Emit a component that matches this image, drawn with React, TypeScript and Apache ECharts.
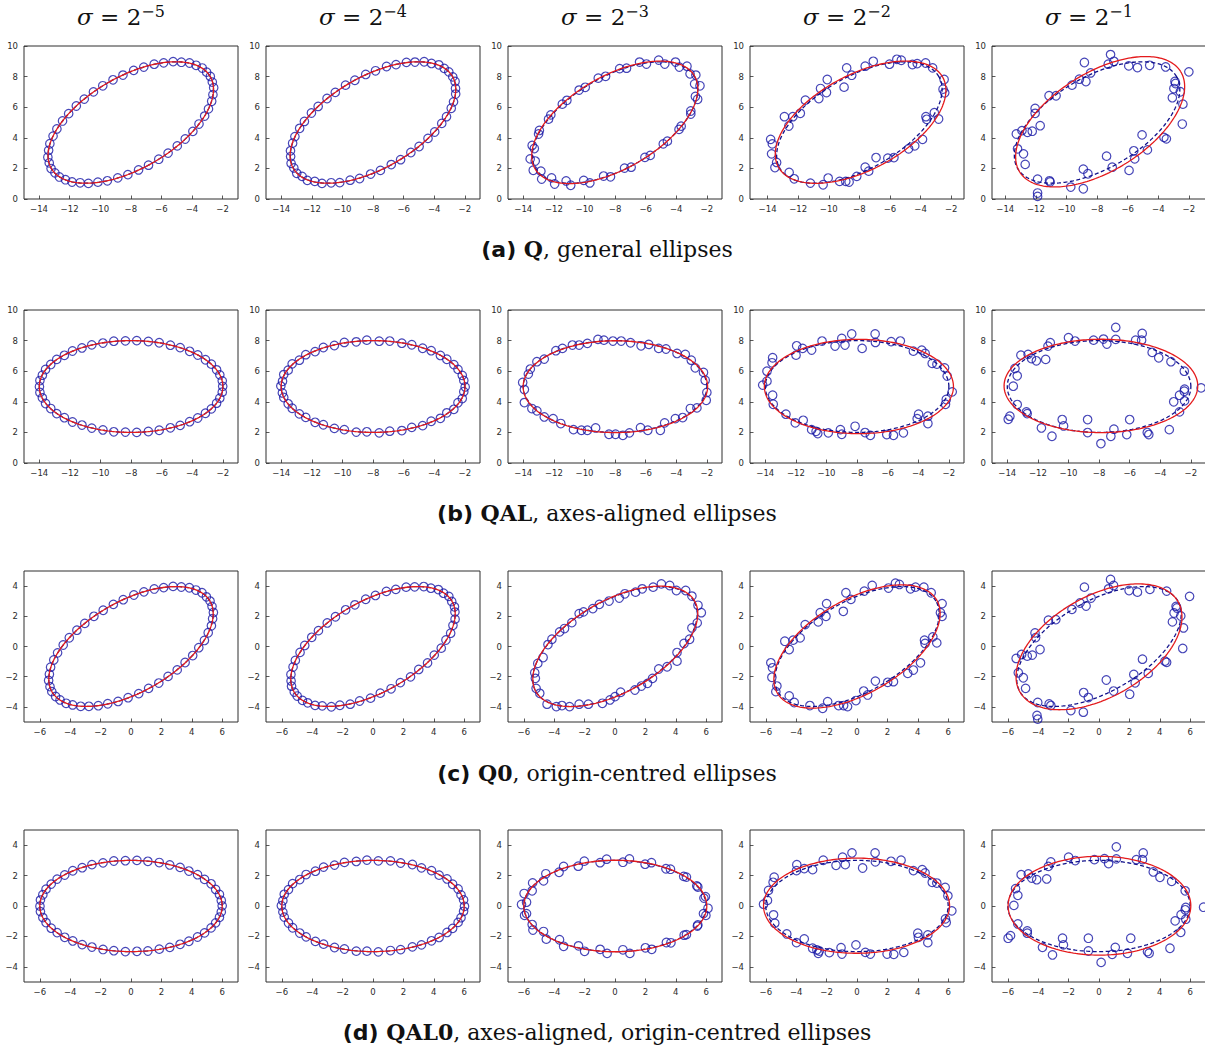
import { useEffect, useRef } from "react";
import * as echarts from "echarts";

// ---------- labels ----------
const sigmaExponents = ["\u22125", "\u22124", "\u22123", "\u22122", "\u22121"];
const rowLabels = ["(a)", "(b)", "(c)", "(d)"];
const rowNames = ["Q", "QAL", "Q0", "QAL0"];
const rowDescriptions = [
  ", general ellipses",
  ", axes-aligned ellipses",
  ", origin-centred ellipses",
  ", axes-aligned, origin-centred ellipses",
];

// ---------- ticks ----------
const xTicksShifted = [-14, -12, -10, -8, -6, -4, -2];
const yTicksShifted = [0, 2, 4, 6, 8, 10];
const xTicksCentred = [-6, -4, -2, 0, 2, 4, 6];
const yTicksCentred = [-4, -2, 0, 2, 4];

// ---------- axis limits ----------
const xMinQ = [-14.98, -15.0, -15.0, -15.15, -14.87];
const xMinQAL = [-15.0, -15.0, -15.0, -15.0, -15.0];
const xMinQ0 = [-7.04, -7.04, -7.04, -7.04, -7.04];
const xMinQAL0 = [-7.04, -7.04, -7.04, -7.04, -7.04];
const xSpanRows = [13.99, 13.99, 14.08, 14.08];
const yLimRows = [[0, 10], [0, 10], [-5, 5], [-5, 5]];

// ---------- ellipses [cx, cy, a, b, angleDeg] ----------
const trueEllipses = [
  [-8, 5, 6, 3, 30],
  [-8, 5, 6, 3, 0],
  [0, 0, 6, 3, 30],
  [0, 0, 6, 3, 0],
];
const fitQ = [
  [-8, 5, 6, 3, 30],
  [-8.01, 5, 6.01, 2.99, 30],
  [-8.02, 5.01, 6.03, 3.02, 30.2],
  [-7.92, 5.02, 6.12, 3.1, 28.5],
  [-7.8, 5.05, 6.2, 3.2, 32],
];
const fitQAL = [
  [-8, 5, 6, 3, 0],
  [-8, 5, 6.01, 3, 0],
  [-7.98, 4.99, 6.03, 3.0, 0],
  [-7.88, 5.0, 6.18, 3.08, 0],
  [-7.88, 5.04, 6.33, 3.05, 0],
];
const fitQ0 = [
  [0, 0, 6, 3, 30],
  [0, 0, 6, 3, 30],
  [0.02, 0.01, 6.02, 3.02, 30],
  [0, 0, 6.08, 3.1, 30.5],
  [0, -0.02, 6.0, 3.34, 30],
];
const fitQAL0 = [
  [0, 0, 6, 3, 0],
  [0, 0, 6, 3, 0],
  [0.02, 0, 6.02, 3.01, 0],
  [-0.03, 0.02, 6.12, 3.13, 0],
  [0.03, 0.02, 6.01, 3.25, 0],
];

// ---------- sample points ----------
// Row (a) Q
const qS5 = [[-2.80,8.01],[-3.04,8.29],[-3.33,8.56],[-3.73,8.74],[-4.16,8.89],[-4.69,8.94],[-5.23,8.98],[-5.85,8.90],[-6.47,8.81],[-7.15,8.62],[-7.81,8.41],[-8.51,8.10],[-9.16,7.79],[-9.83,7.40],[-10.44,7.00],[-11.04,6.53],[-11.56,6.08],[-12.06,5.58],[-12.46,5.10],[-12.83,4.58],[-13.08,4.11],[-13.29,3.61],[-13.37,3.18],[-13.42,2.73],[-13.33,2.36],[-13.21,1.99],[-12.96,1.71],[-12.67,1.44],[-12.27,1.26],[-11.84,1.11],[-11.31,1.06],[-10.77,1.02],[-10.15,1.10],[-9.53,1.19],[-8.85,1.38],[-8.19,1.59],[-7.49,1.90],[-6.84,2.21],[-6.17,2.60],[-5.56,3.00],[-4.96,3.47],[-4.44,3.92],[-3.94,4.42],[-3.54,4.90],[-3.17,5.42],[-2.92,5.89],[-2.71,6.39],[-2.63,6.82],[-2.58,7.27],[-2.67,7.64]];
const qS4 = [[-2.79,7.98],[-3.05,8.31],[-3.35,8.54],[-3.70,8.77],[-4.18,8.86],[-4.66,8.97],[-5.26,8.95],[-5.82,8.93],[-6.50,8.78],[-7.12,8.66],[-7.84,8.38],[-8.48,8.14],[-9.19,7.76],[-9.80,7.44],[-10.47,6.97],[-11.01,6.57],[-11.59,6.05],[-12.03,5.62],[-12.49,5.07],[-12.80,4.62],[-13.11,4.08],[-13.26,3.65],[-13.40,3.15],[-13.39,2.77],[-13.36,2.33],[-13.18,2.03],[-12.99,1.68],[-12.64,1.48],[-12.30,1.22],[-11.81,1.15],[-11.34,1.02],[-10.74,1.06],[-10.18,1.07],[-9.50,1.23],[-8.88,1.34],[-8.16,1.63],[-7.52,1.87],[-6.81,2.25],[-6.20,2.57],[-5.53,3.04],[-4.99,3.43],[-4.41,3.96],[-3.97,4.38],[-3.51,4.94],[-3.20,5.38],[-2.89,5.93],[-2.74,6.35],[-2.60,6.86],[-2.61,7.23],[-2.64,7.68]];
const qS3 = [[-2.72,8.10],[-3.10,8.18],[-3.30,8.68],[-3.80,8.62],[-4.05,8.95],[-4.75,8.82],[-5.15,9.08],[-5.95,8.82],[-6.40,8.95],[-7.25,8.55],[-7.70,8.52],[-8.62,8.02],[-9.10,7.90],[-9.95,7.30],[-10.35,7.12],[-11.15,6.45],[-11.45,6.20],[-12.20,5.50],[-12.35,5.22],[-12.95,4.48],[-13.00,4.25],[-13.42,3.50],[-13.28,3.30],[-13.55,2.62],[-13.22,2.48],[-13.35,1.88],[-12.85,1.82],[-12.80,1.30],[-12.15,1.38],[-11.95,0.98],[-11.20,1.18],[-10.90,0.90],[-10.05,1.22],[-9.65,1.05],[-8.75,1.50],[-8.30,1.45],[-7.38,2.02],[-6.95,2.08],[-6.05,2.72],[-5.70,2.85],[-4.85,3.60],[-4.58,3.78],[-3.82,4.55],[-3.68,4.76],[-3.05,5.55],[-3.05,5.75],[-2.60,6.52],[-2.75,6.70],[-2.45,7.40],[-2.80,7.52]];
const qS2 = [[-13.80,3.90],[-13.69,3.60],[-13.74,2.95],[-13.52,2.06],[-13.41,2.39],[-12.59,1.74],[-12.26,1.32],[-12.61,4.77],[-12.35,5.38],[-12.90,5.38],[-11.86,5.60],[-11.53,6.46],[-11.20,1.04],[-10.65,6.57],[-10.54,7.22],[-10.15,6.96],[-10.10,7.81],[-10.37,0.93],[-10.04,1.37],[-9.29,1.15],[-9.00,7.31],[-8.89,1.15],[-8.83,8.57],[-8.67,1.11],[-8.50,8.09],[-8.17,1.48],[-7.62,8.68],[-7.62,2.08],[-7.39,1.82],[-7.09,9.00],[-6.91,2.71],[-6.14,2.67],[-6.03,8.81],[-5.74,2.71],[-5.55,9.13],[-5.26,9.07],[-4.78,3.28],[-4.53,8.79],[-4.38,3.47],[-4.22,8.85],[-3.87,3.90],[-3.67,8.89],[-3.65,5.38],[-3.60,5.21],[-3.21,8.57],[-3.10,5.64],[-2.82,5.23],[-2.46,7.81],[-2.53,7.18],[-2.42,6.94]];
const qS1 = [[-13.28,4.25],[-13.20,3.28],[-12.91,4.47],[-12.81,2.95],[-12.70,2.26],[-12.55,4.36],[-12.24,4.43],[-12.05,5.92],[-12.05,5.60],[-11.89,1.30],[-11.89,0.39],[-11.89,0.17],[-11.72,4.79],[-11.14,6.75],[-11.11,1.19],[-11.07,1.11],[-10.68,6.75],[-9.72,0.78],[-9.64,7.44],[-9.16,7.83],[-8.83,8.92],[-8.90,1.95],[-8.73,7.68],[-8.90,0.67],[-8.60,1.65],[-8.42,8.24],[-7.38,2.80],[-7.27,8.81],[-7.12,9.44],[-7.01,2.08],[-6.90,9.00],[-5.93,8.70],[-5.91,1.87],[-5.60,3.15],[-5.54,2.62],[-5.36,8.59],[-5.06,4.19],[-4.71,3.21],[-4.56,8.74],[-3.63,4.03],[-3.47,3.93],[-3.52,8.63],[-3.08,6.62],[-2.98,7.22],[-2.91,7.68],[-2.87,7.55],[-2.56,7.01],[-2.39,6.20],[-2.43,4.90],[-2.00,8.31]];

// Row (b) QAL
const qalS5 = [[-2.01,5.01],[-2.04,5.37],[-2.20,5.76],[-2.41,6.09],[-2.75,6.46],[-3.14,6.75],[-3.64,7.06],[-4.17,7.30],[-4.79,7.54],[-5.43,7.70],[-6.16,7.86],[-6.87,7.94],[-7.63,8.00],[-8.37,7.98],[-9.13,7.96],[-9.84,7.84],[-10.57,7.72],[-11.21,7.52],[-11.83,7.32],[-12.36,7.04],[-12.86,6.77],[-13.25,6.44],[-13.59,6.11],[-13.80,5.74],[-13.96,5.39],[-13.99,4.99],[-13.96,4.61],[-13.80,4.26],[-13.59,3.89],[-13.25,3.56],[-12.86,3.23],[-12.36,2.96],[-11.83,2.68],[-11.21,2.48],[-10.57,2.28],[-9.84,2.16],[-9.13,2.04],[-8.37,2.02],[-7.63,2.00],[-6.87,2.06],[-6.16,2.14],[-5.43,2.30],[-4.79,2.46],[-4.17,2.70],[-3.64,2.94],[-3.14,3.25],[-2.75,3.54],[-2.41,3.91],[-2.20,4.24],[-2.04,4.63]];
const qalS4 = [[-1.98,4.97],[-2.07,5.40],[-2.17,5.73],[-2.45,6.12],[-2.72,6.43],[-3.18,6.78],[-3.60,7.03],[-4.20,7.34],[-4.76,7.50],[-5.47,7.73],[-6.12,7.83],[-6.91,7.97],[-7.60,7.96],[-8.41,8.03],[-9.10,7.92],[-9.88,7.88],[-10.53,7.68],[-11.25,7.55],[-11.79,7.28],[-12.40,7.08],[-12.82,6.72],[-13.29,6.48],[-13.55,6.07],[-13.84,5.78],[-13.92,5.34],[-14.03,5.03],[-13.93,4.58],[-13.84,4.28],[-13.55,3.87],[-13.29,3.58],[-12.82,3.21],[-12.40,2.98],[-11.79,2.66],[-11.25,2.50],[-10.53,2.26],[-9.88,2.18],[-9.10,2.02],[-8.41,2.04],[-7.60,1.97],[-6.91,2.08],[-6.12,2.12],[-5.47,2.33],[-4.76,2.44],[-4.20,2.73],[-3.60,2.92],[-3.18,3.28],[-2.72,3.51],[-2.45,3.94],[-2.17,4.21],[-2.07,4.66]];
const qalS3 = [[-14.04,5.26],[-13.93,4.80],[-13.93,3.95],[-13.67,5.81],[-13.54,6.14],[-13.44,3.56],[-13.11,6.62],[-13.11,3.41],[-12.63,6.79],[-12.63,3.01],[-12.05,2.90],[-11.87,7.34],[-11.55,2.58],[-11.44,7.49],[-10.79,7.71],[-10.72,2.18],[-10.35,7.71],[-10.20,2.14],[-9.81,7.82],[-9.81,2.14],[-9.27,2.29],[-9.12,8.08],[-8.73,8.03],[-8.40,1.88],[-8.14,7.97],[-7.97,1.88],[-7.60,7.97],[-7.49,1.81],[-7.06,1.97],[-6.99,7.86],[-6.34,2.31],[-6.30,7.66],[-5.86,2.14],[-5.80,7.75],[-5.15,7.49],[-5.04,2.14],[-4.76,2.62],[-4.67,7.45],[-4.06,2.90],[-3.95,7.16],[-3.58,2.97],[-3.41,7.10],[-3.08,3.56],[-3.02,6.72],[-2.76,6.22],[-2.65,3.60],[-2.22,5.92],[-2.11,5.41],[-2.00,4.61],[-2.04,4.10]];
const qalS2 = [[-14.17,5.09],[-13.89,5.35],[-13.89,6.00],[-13.52,6.88],[-13.56,6.55],[-13.52,4.43],[-13.48,3.84],[-12.65,3.19],[-12.04,2.62],[-11.99,7.05],[-11.95,7.66],[-11.56,7.49],[-11.52,2.79],[-10.97,7.38],[-10.97,2.18],[-10.68,2.07],[-10.57,1.92],[-10.29,7.97],[-9.88,1.97],[-9.44,7.64],[-9.00,8.14],[-9.09,2.18],[-9.00,1.88],[-8.79,7.71],[-8.35,8.43],[-8.13,2.40],[-7.67,7.49],[-7.48,1.99],[-7.13,1.81],[-6.82,8.43],[-6.80,7.88],[-6.06,1.86],[-5.77,7.93],[-5.62,1.81],[-5.17,7.97],[-4.97,1.97],[-4.32,7.31],[-4.07,2.90],[-3.98,3.19],[-3.77,7.38],[-3.55,7.16],[-3.37,2.58],[-3.37,3.06],[-3.09,6.51],[-2.78,6.46],[-2.28,6.22],[-2.11,5.68],[-2.17,4.15],[-2.22,3.84],[-1.78,4.65]];
const qalS1 = [[-13.94,2.86],[-13.83,3.06],[-13.61,5.02],[-13.50,6.18],[-13.35,5.70],[-13.35,3.82],[-13.11,7.05],[-12.75,3.34],[-12.70,3.23],[-12.64,7.10],[-12.42,6.83],[-12.10,6.68],[-11.77,2.29],[-11.49,6.77],[-11.34,7.64],[-11.19,7.86],[-11.08,1.75],[-10.41,2.84],[-10.32,2.42],[-10.00,8.19],[-9.57,7.97],[-8.75,2.84],[-8.75,1.99],[-8.36,8.03],[-7.88,1.27],[-7.71,8.10],[-7.49,7.77],[-7.03,2.21],[-6.91,8.86],[-6.91,8.08],[-7.23,1.75],[-6.00,2.84],[-6.19,1.86],[-5.61,8.03],[-5.22,8.03],[-5.18,8.47],[-4.85,1.99],[-4.75,1.86],[-4.53,7.23],[-4.10,6.88],[-3.41,2.18],[-3.30,6.62],[-3.12,4.00],[-2.74,4.43],[-2.74,3.34],[-2.43,6.00],[-2.43,4.69],[-2.41,4.83],[-2.41,4.06],[-1.33,4.91]];

// Row (c) Q0
const q0S5 = [[5.20,3.01],[4.96,3.29],[4.67,3.56],[4.27,3.74],[3.84,3.89],[3.31,3.94],[2.77,3.98],[2.15,3.90],[1.53,3.81],[0.85,3.62],[0.19,3.41],[-0.51,3.10],[-1.16,2.79],[-1.83,2.40],[-2.44,2.00],[-3.04,1.53],[-3.56,1.08],[-4.06,0.58],[-4.46,0.10],[-4.83,-0.42],[-5.08,-0.89],[-5.29,-1.37],[-5.37,-1.84],[-5.42,-2.25],[-5.33,-2.66],[-5.21,-2.99],[-4.96,-3.31],[-4.67,-3.54],[-4.27,-3.76],[-3.84,-3.87],[-3.31,-3.96],[-2.77,-3.96],[-2.15,-3.92],[-1.53,-3.79],[-0.85,-3.64],[-0.19,-3.39],[0.51,-3.12],[1.16,-2.77],[1.83,-2.42],[2.44,-1.98],[3.04,-1.55],[3.56,-1.06],[4.06,-0.60],[4.46,-0.08],[4.83,0.40],[5.08,0.91],[5.29,1.37],[5.37,1.84],[5.42,2.25],[5.33,2.66]];
const q0S4 = [[5.18,2.98],[4.99,3.32],[4.64,3.53],[4.30,3.77],[3.81,3.86],[3.34,3.97],[2.74,3.95],[2.18,3.93],[1.50,3.78],[0.88,3.65],[0.16,3.38],[-0.48,3.13],[-1.19,2.76],[-1.80,2.43],[-2.47,1.97],[-3.01,1.56],[-3.59,1.05],[-4.03,0.61],[-4.49,0.07],[-4.80,-0.39],[-5.11,-0.92],[-5.26,-1.36],[-5.40,-1.85],[-5.39,-2.28],[-5.36,-2.63],[-5.18,-3.02],[-4.99,-3.28],[-4.64,-3.57],[-4.30,-3.73],[-3.81,-3.90],[-3.34,-3.93],[-2.74,-3.99],[-2.18,-3.89],[-1.50,-3.82],[-0.88,-3.61],[-0.16,-3.42],[0.48,-3.09],[1.19,-2.80],[1.80,-2.39],[2.47,-2.01],[3.01,-1.52],[3.59,-1.09],[4.03,-0.57],[4.49,-0.11],[4.80,0.43],[5.11,0.88],[5.26,1.40],[5.40,1.81],[5.39,2.28],[5.36,2.63]];
const q0S3 = [[-5.28,-1.74],[-5.24,-2.11],[-5.19,-2.77],[-5.08,-1.12],[-4.95,-3.10],[-4.73,-0.73],[-4.47,-3.82],[-4.41,0.13],[-4.15,0.48],[-3.86,-3.98],[-3.64,0.97],[-3.49,-3.91],[-3.32,1.19],[-2.99,-3.98],[-2.84,1.58],[-2.36,2.18],[-2.36,-3.82],[-2.07,2.29],[-1.75,-3.82],[-1.46,2.51],[-1.03,2.79],[-0.83,-3.76],[-0.39,3.01],[-0.33,-3.54],[0.00,-3.32],[0.28,3.21],[0.37,-3.03],[0.65,3.49],[1.31,-2.88],[1.35,3.60],[1.74,-2.62],[1.79,3.82],[2.14,-2.44],[2.47,-2.11],[2.51,3.93],[2.88,-1.49],[3.05,4.15],[3.43,-1.34],[3.60,4.04],[4.04,3.71],[4.08,-0.40],[4.08,-0.97],[4.54,0.20],[4.65,3.71],[4.91,0.48],[5.06,1.23],[5.06,3.34],[5.41,1.56],[5.46,2.73],[5.68,2.24]];
const q0S2 = [[-5.67,-1.08],[-5.56,-1.41],[-5.60,-2.04],[-5.34,-2.99],[-5.27,-2.62],[-4.75,0.35],[-4.46,-0.20],[-4.46,-3.27],[-4.20,0.42],[-4.13,-3.71],[-3.74,0.57],[-3.41,1.45],[-3.10,-3.91],[-2.55,1.63],[-2.42,2.24],[-2.26,-4.09],[-2.04,2.00],[-2.00,2.84],[-1.93,-3.65],[-1.21,-3.91],[-0.90,2.33],[-0.88,-3.91],[-0.73,3.56],[-0.62,-3.98],[-0.40,3.12],[-0.07,-3.58],[0.48,3.67],[0.44,-2.95],[0.70,-3.21],[1.00,4.04],[1.21,-2.29],[2.02,-2.37],[2.07,3.87],[2.40,-2.33],[2.53,4.20],[2.79,4.11],[3.34,-1.78],[3.52,3.82],[3.71,-1.56],[3.85,3.93],[4.18,-1.08],[4.40,3.93],[4.44,0.42],[4.48,0.20],[4.88,3.56],[4.99,0.64],[5.25,0.24],[5.49,2.24],[5.60,2.84],[5.60,2.00]];
const q0S1 = [[-5.45,-0.79],[-5.31,-1.74],[-5.09,-0.53],[-4.98,-2.07],[-4.83,-2.77],[-4.72,-0.64],[-4.39,-0.57],[-4.21,0.90],[-4.17,0.59],[-4.03,-3.71],[-4.08,-4.57],[-4.03,-4.81],[-3.88,-0.20],[-3.33,1.74],[-3.28,-3.80],[-3.17,-3.91],[-2.84,1.78],[-1.85,-4.24],[-1.78,2.46],[-1.25,2.88],[-1.03,-4.35],[-1.01,-3.05],[-0.96,3.93],[-0.85,2.68],[-0.70,-3.38],[-0.52,3.21],[0.48,-2.22],[0.63,3.82],[0.76,4.44],[0.96,-2.95],[0.96,4.04],[1.98,3.71],[2.02,-3.16],[2.29,-1.85],[2.38,-2.40],[2.53,3.60],[2.86,-0.84],[3.24,-1.78],[3.35,3.78],[4.34,-0.97],[4.45,-1.05],[4.45,3.67],[4.83,1.63],[4.94,2.22],[5.07,2.66],[5.12,2.55],[5.38,2.02],[5.51,-0.13],[5.56,1.23],[5.96,3.32]];

// Row (d) QAL0
const qal0S5 = [[6.00,0.01],[5.94,0.37],[5.82,0.76],[5.57,1.09],[5.27,1.46],[4.84,1.75],[4.38,2.06],[3.81,2.30],[3.23,2.54],[2.55,2.70],[1.86,2.86],[1.11,2.94],[0.39,3.00],[-0.37,2.98],[-1.13,2.96],[-1.84,2.84],[-2.57,2.72],[-3.21,2.52],[-3.83,2.32],[-4.36,2.04],[-4.86,1.77],[-5.25,1.44],[-5.59,1.11],[-5.80,0.74],[-5.96,0.39],[-5.99,-0.01],[-5.96,-0.37],[-5.80,-0.76],[-5.59,-1.09],[-5.25,-1.46],[-4.86,-1.75],[-4.36,-2.06],[-3.83,-2.30],[-3.21,-2.54],[-2.57,-2.70],[-1.84,-2.86],[-1.13,-2.94],[-0.37,-3.00],[0.39,-2.98],[1.11,-2.96],[1.86,-2.84],[2.55,-2.72],[3.23,-2.52],[3.81,-2.32],[4.38,-2.04],[4.84,-1.77],[5.27,-1.44],[5.57,-1.11],[5.82,-0.74],[5.94,-0.39]];
const qal0S4 = [[6.02,-0.02],[5.96,0.40],[5.79,0.73],[5.60,1.12],[5.24,1.43],[4.87,1.78],[4.35,2.03],[3.85,2.33],[3.19,2.51],[2.59,2.73],[1.82,2.83],[1.15,2.97],[0.35,2.97],[-0.40,3.02],[-1.10,2.93],[-1.88,2.87],[-2.53,2.69],[-3.25,2.56],[-3.79,2.29],[-4.40,2.07],[-4.82,1.74],[-5.29,1.47],[-5.56,1.08],[-5.84,0.77],[-5.93,0.35],[-6.03,0.02],[-5.93,-0.40],[-5.84,-0.73],[-5.56,-1.12],[-5.29,-1.43],[-4.82,-1.78],[-4.40,-2.03],[-3.79,-2.33],[-3.25,-2.51],[-2.53,-2.73],[-1.88,-2.83],[-1.10,-2.97],[-0.40,-2.97],[0.35,-3.02],[1.15,-2.93],[1.82,-2.87],[2.59,-2.69],[3.19,-2.56],[3.85,-2.29],[4.35,-2.07],[4.87,-1.74],[5.24,-1.47],[5.60,-1.08],[5.79,-0.77],[5.96,-0.35]];
const qal0S3 = [[6.12,-0.15],[5.85,0.52],[5.95,0.62],[5.45,1.25],[5.38,1.32],[4.70,1.90],[4.52,1.95],[3.65,2.42],[3.35,2.45],[2.40,2.85],[1.98,2.75],[0.95,3.10],[0.52,2.88],[-0.55,3.08],[-0.98,2.85],[-2.02,2.95],[-2.42,2.62],[-3.38,2.60],[-3.68,2.22],[-4.55,2.12],[-4.70,1.65],[-5.42,1.52],[-5.45,1.00],[-5.98,0.82],[-5.82,0.25],[-6.15,0.10],[-5.82,-0.50],[-5.95,-0.62],[-5.45,-1.22],[-5.40,-1.58],[-4.70,-1.68],[-4.52,-2.18],[-3.65,-2.22],[-3.38,-2.65],[-2.40,-2.62],[-2.00,-2.98],[-0.98,-2.85],[-0.52,-3.12],[0.52,-2.88],[0.98,-3.12],[2.00,-2.75],[2.42,-2.85],[3.38,-2.40],[3.68,-2.42],[4.55,-1.92],[4.70,-1.88],[5.42,-1.32],[5.45,-1.25],[5.98,-0.62],[5.82,-0.50]];
const qal0S2 = [[-6.15,0.12],[-5.89,0.37],[-5.82,1.03],[-5.52,1.56],[-5.45,1.89],[-5.49,-0.58],[-5.41,-1.13],[-4.62,-1.84],[-3.98,2.33],[-3.96,2.72],[-3.98,-2.41],[-3.47,-2.17],[-3.47,2.46],[-2.92,2.39],[-2.92,-2.78],[-2.64,-2.89],[-2.55,-3.11],[-2.48,-2.96],[-2.22,3.01],[-1.82,-3.07],[-1.38,2.68],[-1.05,-2.74],[-0.99,-3.16],[-0.95,3.21],[-0.77,2.72],[-0.33,3.49],[-0.07,-2.56],[0.37,2.50],[0.55,-3.05],[0.88,-3.16],[1.19,3.49],[1.21,2.90],[1.98,-3.16],[2.24,2.94],[2.42,-3.18],[2.90,3.01],[3.08,-3.05],[3.71,2.33],[4.00,-1.79],[4.04,-2.06],[4.29,2.39],[4.48,2.17],[4.66,-1.90],[4.66,-2.41],[4.95,1.56],[5.25,1.51],[5.80,1.22],[5.98,0.67],[6.24,-0.32],[5.82,-0.85],[5.87,-1.09]];
const qal0S1 = [[-5.98,-2.12],[-5.82,-1.95],[-5.60,0.04],[-5.49,1.14],[-5.34,0.70],[-5.34,-1.18],[-5.12,2.06],[-4.72,-1.64],[-4.72,-1.79],[-4.65,2.11],[-4.43,1.84],[-4.10,1.73],[-3.72,-2.72],[-3.44,1.78],[-3.33,2.61],[-3.17,2.90],[-3.06,-3.22],[-2.40,-2.12],[-2.34,-2.56],[-2.00,3.21],[-1.56,2.99],[-0.70,-2.12],[-0.70,-2.96],[-0.30,3.05],[0.14,-3.71],[0.36,3.12],[0.63,2.79],[0.87,-3.18],[1.07,-2.72],[1.14,3.89],[1.14,3.10],[1.87,-3.11],[2.09,-2.12],[2.46,3.05],[2.86,3.05],[2.91,3.49],[3.19,-3.00],[3.30,-3.11],[3.57,2.24],[4.01,1.89],[4.67,-2.78],[4.78,1.62],[5.01,-0.98],[5.38,-1.73],[5.40,-0.57],[5.67,1.00],[5.67,-0.25],[5.71,-0.10],[5.71,-0.87],[6.88,-0.08]];

const pointRows = [
  [qS5, qS4, qS3, qS2, qS1],
  [qalS5, qalS4, qalS3, qalS2, qalS1],
  [q0S5, q0S4, q0S3, q0S2, q0S1],
  [qal0S5, qal0S4, qal0S3, qal0S2, qal0S1],
];
const fitRows = [fitQ, fitQAL, fitQ0, fitQAL0];
const xMinRows = [xMinQ, xMinQAL, xMinQ0, xMinQAL0];

// ---------- layout (pixels) ----------
const colLefts = [24, 266, 508, 750, 992];
const panelWidth = 214;
const rowTops = [46, 310, 571, 830];
const rowHeights = [153, 153, 151, 152];
const titleY = 17;
const captionYs = [249, 513, 773, 1032];
const captionX = 607;

const POINT_COLOR = "#1818a6";
const TRUE_COLOR = "#10108a";
const FIT_COLOR = "#e41a1c";
const AXIS_COLOR = "#2e2e2e";

function ellipseCurve(p: number[]): number[][] {
  const [cx, cy, a, b, deg] = p;
  const th = (deg * Math.PI) / 180;
  const out: number[][] = [];
  const n = 240;
  for (let i = 0; i <= n; i++) {
    const t = (i / n) * 2 * Math.PI;
    const ex = a * Math.cos(t);
    const ey = b * Math.sin(t);
    out.push([
      cx + ex * Math.cos(th) - ey * Math.sin(th),
      cy + ex * Math.sin(th) + ey * Math.cos(th),
    ]);
  }
  return out;
}

const fmt = (v: number) => (v < 0 ? "\u2212" + Math.abs(v) : String(v));

function buildOption() {
  const grid: any[] = [];
  const xAxis: any[] = [];
  const yAxis: any[] = [];
  const series: any[] = [];
  const graphic: any[] = [];

  for (let r = 0; r < 4; r++) {
    const centred = r >= 2;
    const xt = centred ? xTicksCentred : xTicksShifted;
    const yt = centred ? yTicksCentred : yTicksShifted;
    for (let c = 0; c < 5; c++) {
      const idx = r * 5 + c;
      grid.push({
        left: colLefts[c],
        top: rowTops[r],
        width: panelWidth,
        height: rowHeights[r],
        show: true,
        borderColor: AXIS_COLOR,
        borderWidth: 1,
        backgroundColor: "transparent",
        containLabel: false,
        outerBoundsMode: "none",
      });
      const xmin = xMinRows[r][c];
      xAxis.push({
        gridIndex: idx,
        type: "value",
        position: "bottom",
        min: xmin,
        max: xmin + xSpanRows[r],
        axisLine: { show: false, onZero: false },
        splitLine: { show: false },
        axisTick: {
          show: true,
          inside: true,
          length: 3.5,
          lineStyle: { color: AXIS_COLOR, width: 0.8 },
          customValues: xt,
        },
        axisLabel: {
          show: true,
          customValues: xt,
          margin: 5,
          fontSize: 8.5,
          color: "#2a2a2a",
          fontFamily: "DejaVu Sans",
          formatter: fmt,
        },
      });
      yAxis.push({
        gridIndex: idx,
        type: "value",
        position: "left",
        min: yLimRows[r][0],
        max: yLimRows[r][1],
        axisLine: { show: false, onZero: false },
        splitLine: { show: false },
        axisTick: {
          show: true,
          inside: true,
          length: 3.5,
          lineStyle: { color: AXIS_COLOR, width: 0.8 },
          customValues: yt,
        },
        axisLabel: {
          show: true,
          customValues: yt,
          margin: 6,
          fontSize: 8.5,
          color: "#2a2a2a",
          fontFamily: "DejaVu Sans",
          formatter: fmt,
        },
      });
      series.push({
        type: "scatter",
        xAxisIndex: idx,
        yAxisIndex: idx,
        data: pointRows[r][c],
        symbol: "circle",
        symbolSize: 8.5,
        itemStyle: { color: "rgba(0,0,0,0)", borderColor: POINT_COLOR, borderWidth: 1.2 },
        silent: true,
        z: 2,
      });
      series.push({
        type: "line",
        xAxisIndex: idx,
        yAxisIndex: idx,
        data: ellipseCurve(trueEllipses[r]),
        showSymbol: false,
        symbol: "none",
        lineStyle: { color: TRUE_COLOR, width: 1.3, type: [4, 2.5] },
        silent: true,
        z: 3,
      });
      series.push({
        type: "line",
        xAxisIndex: idx,
        yAxisIndex: idx,
        data: ellipseCurve(fitRows[r][c]),
        showSymbol: false,
        symbol: "none",
        lineStyle: { color: FIT_COLOR, width: 1.3 },
        silent: true,
        z: 4,
      });
    }
  }

  for (let c = 0; c < 5; c++) {
    graphic.push({
      type: "text",
      x: colLefts[c] + panelWidth / 2 - 10,
      y: titleY,
      style: {
        text: "{s|\u03c3}{t| = 2}{u|" + sigmaExponents[c] + "}",
        align: "center",
        verticalAlign: "middle",
        fill: "#111",
        rich: {
          s: { fontSize: 23, fontFamily: "DejaVu Serif", fontStyle: "italic", lineHeight: 28, fill: "#111" },
          t: { fontSize: 23, fontFamily: "DejaVu Serif", lineHeight: 28, fill: "#111" },
          u: { fontSize: 16, fontFamily: "DejaVu Serif", lineHeight: 16, verticalAlign: "top", fill: "#111" },
        },
      },
    });
  }

  for (let r = 0; r < 4; r++) {
    graphic.push({
      type: "text",
      x: captionX,
      y: captionYs[r],
      style: {
        text: "{p|" + rowLabels[r] + "}{q| " + rowNames[r] + "}{d|" + rowDescriptions[r] + "}",
        align: "center",
        verticalAlign: "middle",
        fill: "#111",
        rich: {
          p: { fontSize: 22, fontFamily: "DejaVu Sans", fontWeight: "bold", lineHeight: 26, fill: "#111" },
          q: { fontSize: 22, fontFamily: "DejaVu Serif", fontWeight: "bold", lineHeight: 26, fill: "#111" },
          d: { fontSize: 22, fontFamily: "DejaVu Serif", lineHeight: 26, fill: "#111" },
        },
      },
    });
  }

  return {
    animation: false,
    backgroundColor: "#ffffff",
    grid,
    xAxis,
    yAxis,
    series,
    graphic,
  };
}

export default function App() {
  const ref = useRef<HTMLDivElement>(null);
  useEffect(() => {
    if (!ref.current) return;
    const chart = echarts.init(ref.current, undefined, { renderer: "svg" });
    chart.setOption(buildOption() as any);
    return () => chart.dispose();
  }, []);
  return (
    <div
      ref={ref}
      style={{ position: "absolute", left: 0, top: 0, width: 1205, height: 1051, background: "#fff" }}
    />
  );
}
